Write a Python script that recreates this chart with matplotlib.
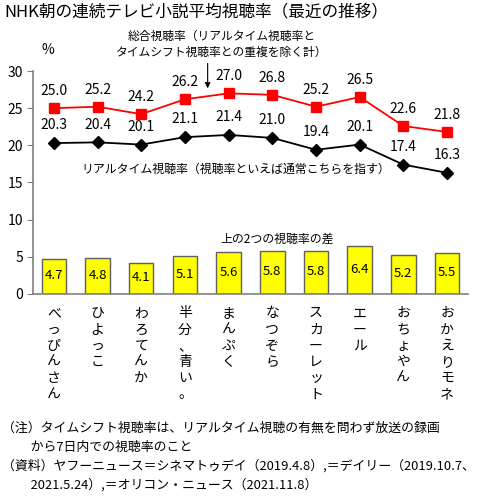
import numpy as np
import matplotlib.pyplot as plt

plt.rcParams['font.family'] = ['Noto Sans CJK JP', 'DejaVu Sans']

dramas = ['べっぴんさん', 'ひよっこ', 'わろてんか', '半分、青い。', 'まんぷく',
          'なつぞら', 'スカーレット', 'エール', 'おちょやん', 'おかえりモネ']
total = [25.0, 25.2, 24.2, 26.2, 27.0, 26.8, 25.2, 26.5, 22.6, 21.8]
realtime = [20.3, 20.4, 20.1, 21.1, 21.4, 21.0, 19.4, 20.1, 17.4, 16.3]
diff = [4.7, 4.8, 4.1, 5.1, 5.6, 5.8, 5.8, 6.4, 5.2, 5.5]

fig = plt.figure(figsize=(4.84, 5.04), dpi=100)
ax = fig.add_axes([0.068, 0.417, 0.899, 0.442])
x = np.arange(len(dramas))

# bars: difference
ax.bar(x, diff, width=0.56, color='#ffff00', edgecolor='#606060', linewidth=1.0, zorder=2)
for xi, v in zip(x, diff):
    ax.text(xi, v / 2 + 0.1, f'{v:.1f}', ha='center', va='center', fontsize=9.5, zorder=3)

# lines
ax.plot(x, total, color='red', marker='s', markersize=6.5, linewidth=1.3, zorder=4)
ax.plot(x, realtime, color='black', marker='D', markersize=6, linewidth=1.3, zorder=4)
for xi, v in zip(x, total):
    ax.text(xi, v + 2.3, f'{v:.1f}', ha='center', va='center', fontsize=10)
for xi, v in zip(x, realtime):
    ax.text(xi, v + 2.4, f'{v:.1f}', ha='center', va='center', fontsize=10)

ax.set_xlim(-0.48, 9.48)
ax.set_ylim(0, 30)
ax.set_yticks([0, 5, 10, 15, 20, 25, 30])
ax.set_xticks(x)
ax.set_xticklabels(['\n'.join(d) for d in dramas], fontsize=10, linespacing=1.2)
ax.tick_params(axis='x', length=0, pad=9)
ax.tick_params(axis='y', length=4, color='#808080', labelsize=10, pad=3)
for s in ['top', 'right']:
    ax.spines[s].set_visible(False)
for s in ['left', 'bottom']:
    ax.spines[s].set_color('#808080')
    ax.spines[s].set_linewidth(1.2)

ax.text(-0.14, 32.8, '%', ha='center', va='center', fontsize=10)
ax.text(3.84, 33.6, '総合視聴率（リアルタイム視聴率と\nタイムシフト視聴率との重複を除く計）',
        ha='center', va='center', fontsize=8.5, linespacing=1.3)
ax.annotate('', xy=(3.52, 27.3), xytext=(3.52, 31.4), annotation_clip=False,
            arrowprops=dict(arrowstyle='-|>', color='black', lw=0.8, mutation_scale=8))
ax.text(0.64, 16.7, 'リアルタイム視聴率（視聴率といえば通常こちらを指す）',
        ha='left', va='center', fontsize=8.6)
ax.text(5.1, 7.3, '上の2つの視聴率の差', ha='center', va='center', fontsize=8.6)

fig.text(0.01, 0.975, 'NHK朝の連続テレビ小説平均視聴率（最近の推移）', ha='left', va='center', fontsize=12)

notes = ['（注）タイムシフト視聴率は、リアルタイム視聴の有無を問わず放送の録画',
         '　　 から7日内での視聴率のこと',
         '（資料）ヤフーニュース＝シネマトゥデイ（2019.4.8）,＝デイリー（2019.10.7、',
         '　　 2021.5.24）,＝オリコン・ニュース（2021.11.8）']
for i, line in enumerate(notes):
    fig.text(0.005, 1 - (428 + i * 19) / 504, line, ha='left', va='center', fontsize=9.3)

fig.savefig('out.png', dpi=100)
